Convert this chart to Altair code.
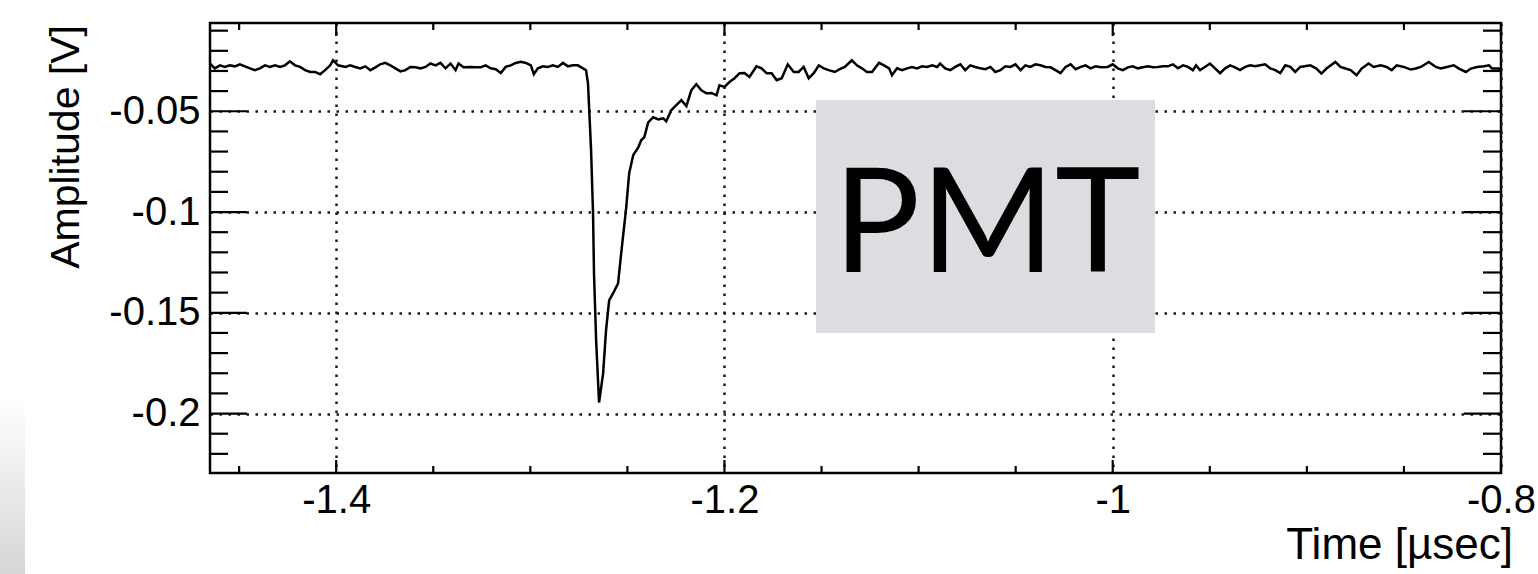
import altair as alt
import pandas as pd

# ---- waveform: time [usec], amplitude [V] ----
time_us = [
    -1.4651, -1.4625, -1.4599, -1.4574, -1.4548, -1.4522, -1.4496, -1.4470, -1.4444, -1.4419,
    -1.4393, -1.4367, -1.4341, -1.4315, -1.4289, -1.4264, -1.4238, -1.4212, -1.4186, -1.4160,
    -1.4134, -1.4109, -1.4083, -1.4057, -1.4031, -1.4016, -1.3990, -1.3953, -1.3928, -1.3902,
    -1.3876, -1.3850, -1.3824, -1.3798, -1.3773, -1.3747, -1.3721, -1.3695, -1.3669, -1.3643,
    -1.3618, -1.3592, -1.3566, -1.3540, -1.3514, -1.3488, -1.3463, -1.3437, -1.3411, -1.3385,
    -1.3370, -1.3344, -1.3308, -1.3282, -1.3256, -1.3230, -1.3204, -1.3178, -1.3152, -1.3127,
    -1.3101, -1.3075, -1.3049, -1.3023, -1.2997, -1.2982, -1.2961, -1.2935, -1.2910, -1.2884,
    -1.2858, -1.2832, -1.2806, -1.2780, -1.2755, -1.2729, -1.2713, -1.2703, -1.2687, -1.2677,
    -1.2672, -1.2661, -1.2646, -1.2625, -1.2610, -1.2594, -1.2574, -1.2548, -1.2532, -1.2506,
    -1.2491, -1.2470, -1.2444, -1.2429, -1.2413, -1.2393, -1.2367, -1.2341, -1.2315, -1.2300,
    -1.2274, -1.2248, -1.2222, -1.2196, -1.2171, -1.2145, -1.2119, -1.2093, -1.2067, -1.2041,
    -1.2026, -1.2000, -1.1974, -1.1948, -1.1922, -1.1897, -1.1871, -1.1835, -1.1809, -1.1783,
    -1.1757, -1.1731, -1.1705, -1.1674, -1.1643, -1.1618, -1.1592, -1.1566, -1.1540, -1.1514,
    -1.1488, -1.1463, -1.1432, -1.1406, -1.1380, -1.1344, -1.1318, -1.1292, -1.1266, -1.1240,
    -1.1204, -1.1178, -1.1152, -1.1137, -1.1111, -1.1085, -1.1059, -1.1034, -1.1008, -1.0982,
    -1.0956, -1.0930, -1.0904, -1.0889, -1.0863, -1.0837, -1.0811, -1.0785, -1.0760, -1.0734,
    -1.0708, -1.0682, -1.0656, -1.0630, -1.0605, -1.0579, -1.0553, -1.0527, -1.0501, -1.0475,
    -1.0450, -1.0424, -1.0398, -1.0372, -1.0346, -1.0320, -1.0295, -1.0269, -1.0243, -1.0217,
    -1.0191, -1.0165, -1.0140, -1.0114, -1.0088, -1.0062, -1.0026, -1.0000, -0.9974, -0.9948,
    -0.9922, -0.9897, -0.9871, -0.9845, -0.9819, -0.9793, -0.9767, -0.9742, -0.9716, -0.9690,
    -0.9664, -0.9638, -0.9612, -0.9587, -0.9571, -0.9550, -0.9525, -0.9499, -0.9473, -0.9447,
    -0.9421, -0.9395, -0.9370, -0.9344, -0.9318, -0.9292, -0.9266, -0.9240, -0.9215, -0.9189,
    -0.9163, -0.9137, -0.9111, -0.9085, -0.9060, -0.9034, -0.8982, -0.8951, -0.8925, -0.8899,
    -0.8853, -0.8827, -0.8801, -0.8775, -0.8744, -0.8718, -0.8682, -0.8656, -0.8620, -0.8589,
    -0.8563, -0.8537, -0.8501, -0.8465, -0.8439, -0.8413, -0.8372, -0.8336, -0.8310, -0.8279,
    -0.8243, -0.8217, -0.8181, -0.8155, -0.8124, -0.8088, -0.8062, -0.8046, -0.8010, -0.8000,
]
amp_v = [
    -0.0263, -0.0287, -0.0272, -0.0280, -0.0272, -0.0277, -0.0267, -0.0277, -0.0287, -0.0296,
    -0.0287, -0.0272, -0.0280, -0.0272, -0.0280, -0.0272, -0.0252, -0.0272, -0.0280, -0.0296,
    -0.0305, -0.0305, -0.0316, -0.0296, -0.0272, -0.0247, -0.0272, -0.0280, -0.0272, -0.0280,
    -0.0287, -0.0277, -0.0296, -0.0282, -0.0267, -0.0260, -0.0272, -0.0287, -0.0302, -0.0296,
    -0.0280, -0.0282, -0.0287, -0.0280, -0.0263, -0.0272, -0.0260, -0.0287, -0.0263, -0.0296,
    -0.0263, -0.0282, -0.0280, -0.0282, -0.0282, -0.0272, -0.0287, -0.0291, -0.0310, -0.0280,
    -0.0272, -0.0260, -0.0255, -0.0260, -0.0272, -0.0316, -0.0287, -0.0277, -0.0280, -0.0272,
    -0.0280, -0.0260, -0.0277, -0.0272, -0.0272, -0.0287, -0.0296, -0.0361, -0.0694, -0.1006,
    -0.1304, -0.1637, -0.1945, -0.1801, -0.1587, -0.1438, -0.1404, -0.1354, -0.1205, -0.0977,
    -0.0808, -0.0718, -0.0679, -0.0644, -0.0629, -0.0555, -0.0530, -0.0540, -0.0535, -0.0550,
    -0.0495, -0.0470, -0.0445, -0.0475, -0.0396, -0.0366, -0.0396, -0.0411, -0.0409, -0.0421,
    -0.0371, -0.0379, -0.0355, -0.0336, -0.0311, -0.0310, -0.0330, -0.0277, -0.0287, -0.0311,
    -0.0311, -0.0346, -0.0336, -0.0267, -0.0305, -0.0305, -0.0280, -0.0336, -0.0311, -0.0272,
    -0.0287, -0.0296, -0.0305, -0.0291, -0.0280, -0.0247, -0.0272, -0.0287, -0.0305, -0.0305,
    -0.0260, -0.0272, -0.0287, -0.0321, -0.0287, -0.0296, -0.0287, -0.0280, -0.0287, -0.0277,
    -0.0280, -0.0272, -0.0280, -0.0263, -0.0287, -0.0296, -0.0280, -0.0267, -0.0296, -0.0272,
    -0.0280, -0.0287, -0.0291, -0.0280, -0.0305, -0.0296, -0.0277, -0.0280, -0.0267, -0.0296,
    -0.0272, -0.0280, -0.0267, -0.0272, -0.0280, -0.0282, -0.0296, -0.0311, -0.0280, -0.0267,
    -0.0291, -0.0280, -0.0272, -0.0287, -0.0277, -0.0282, -0.0280, -0.0267, -0.0287, -0.0296,
    -0.0282, -0.0277, -0.0287, -0.0282, -0.0277, -0.0282, -0.0280, -0.0277, -0.0277, -0.0267,
    -0.0287, -0.0272, -0.0280, -0.0296, -0.0272, -0.0296, -0.0280, -0.0263, -0.0287, -0.0311,
    -0.0287, -0.0272, -0.0282, -0.0296, -0.0280, -0.0272, -0.0277, -0.0272, -0.0267, -0.0287,
    -0.0296, -0.0311, -0.0272, -0.0280, -0.0305, -0.0280, -0.0272, -0.0288, -0.0313, -0.0288,
    -0.0255, -0.0280, -0.0288, -0.0296, -0.0321, -0.0288, -0.0263, -0.0280, -0.0272, -0.0280,
    -0.0296, -0.0272, -0.0280, -0.0293, -0.0288, -0.0280, -0.0255, -0.0280, -0.0288, -0.0280,
    -0.0272, -0.0288, -0.0305, -0.0288, -0.0280, -0.0277, -0.0272, -0.0288, -0.0288, -0.0293,
]

# ---- axes ----
x_domain = [-1.465, -0.8]
y_domain = [-0.2295, -0.0062]
x_major = [-1.4, -1.2, -1.0, -0.8]
x_minor = [-1.45, -1.35, -1.3, -1.25, -1.15, -1.1, -1.05, -0.95, -0.9, -0.85]
y_major = [-0.2, -0.15, -0.1, -0.05]
y_minor = [-0.22, -0.21, -0.19, -0.18, -0.17, -0.16, -0.14, -0.13, -0.12, -0.11,
           -0.09, -0.08, -0.07, -0.06, -0.04, -0.03, -0.02, -0.01]

x_title = "Time [µsec]"
y_title = "Amplitude [V]"
box_label = "PMT"

W, H = 1291, 450
FONT = "Liberation Sans"

xs = alt.Scale(domain=x_domain, nice=False, zero=False)
ys = alt.Scale(domain=y_domain, nice=False, zero=False)

x_axis = alt.Axis(values=x_major, grid=True, gridDash=[2.5, 6.5], gridColor="#1a1a1a",
                  gridWidth=2.5, ticks=False, tickSize=0, domain=False,
                  labelFont=FONT, labelFontSize=40, labelColor="black",
                  labelPadding=7, labelFlush=False, labelOverlap=False,
                  labelExpr="toString(datum.value)", title=None)
y_axis = alt.Axis(values=y_major, grid=True, gridDash=[2.5, 6.5], gridColor="#1a1a1a",
                  gridWidth=2.5, ticks=False, tickSize=0, domain=False,
                  labelFont=FONT, labelFontSize=40, labelColor="black",
                  labelPadding=10, labelOverlap=False,
                  labelExpr="toString(datum.value)", title=None)

wave = pd.DataFrame({"t": time_us, "v": amp_v})

line = alt.Chart(wave).mark_line(color="black", strokeWidth=2.5).encode(
    x=alt.X("t:Q", scale=xs, axis=x_axis, title=None),
    y=alt.Y("v:Q", scale=ys, axis=y_axis, title=None),
    order="t:Q",
)


def yticks(vals, length):
    d = pd.DataFrame({"v": vals})
    left = alt.Chart(d).mark_rule(color="black", strokeWidth=2.2).encode(
        y=alt.Y("v:Q", scale=ys, axis=y_axis, title=None), x=alt.value(0), x2=alt.value(length))
    right = alt.Chart(d).mark_rule(color="black", strokeWidth=2.2).encode(
        y=alt.Y("v:Q", scale=ys, axis=y_axis, title=None), x=alt.value(W), x2=alt.value(W - length))
    return [left, right]


def xticks(vals, length):
    d = pd.DataFrame({"t": vals})
    bottom = alt.Chart(d).mark_rule(color="black", strokeWidth=2.2).encode(
        x=alt.X("t:Q", scale=xs, axis=x_axis, title=None), y=alt.value(H), y2=alt.value(H - length))
    top = alt.Chart(d).mark_rule(color="black", strokeWidth=2.2).encode(
        x=alt.X("t:Q", scale=xs, axis=x_axis, title=None), y=alt.value(0), y2=alt.value(length))
    return [bottom, top]


one = pd.DataFrame({"k": [0]})

ytitle = alt.Chart(one).mark_text(
    text=y_title, angle=270, align="right", baseline="alphabetic",
    font=FONT, fontSize=41, color="black").encode(x=alt.value(-131), y=alt.value(2))

xtitle = alt.Chart(one).mark_text(
    text=x_title, align="right", baseline="alphabetic",
    font=FONT, fontSize=44, color="black").encode(x=alt.value(1303), y=alt.value(536))

box = alt.Chart(one).mark_rect(color="#dcdde0").encode(
    x=alt.value(606), x2=alt.value(945), y=alt.value(77), y2=alt.value(310))

box_text = alt.Chart(one).mark_text(
    text=box_label, align="center", baseline="alphabetic",
    font="Lato", fontSize=145, color="black").encode(x=alt.value(777), y=alt.value(249))

strip = alt.Chart(one).mark_rect(
    color=alt.LinearGradient(
        gradient="linear",
        stops=[alt.GradientStop(offset=0, color="#ffffff"),
               alt.GradientStop(offset=1, color="#d6d6d6")],
        x1=0, x2=0, y1=0, y2=1)
).encode(x=alt.value(-210), x2=alt.value(-185), y=alt.value(374), y2=alt.value(551))

layers = [line]
layers += yticks(y_major, 37) + yticks(y_minor, 18)
layers += xticks(x_major, 13) + xticks(x_minor, 7)
layers += [box, box_text, ytitle, xtitle, strip]

chart = alt.layer(*layers).properties(
    width=W, height=H,
    padding={"left": 210, "top": 23, "right": 37, "bottom": 101},
    autosize=alt.AutoSizeParams(type="none"),
    background="white",
).configure_view(stroke="black", strokeWidth=2.5)

chart.save("out.html", embed_options={"renderer": "svg", "actions": False})
